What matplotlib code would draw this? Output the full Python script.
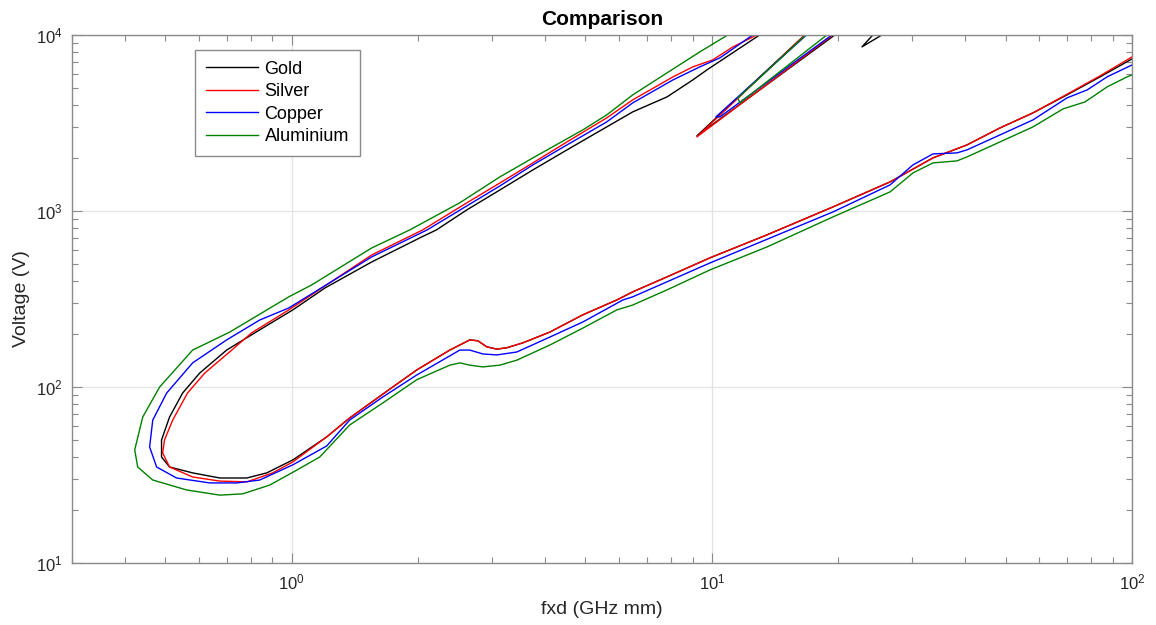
import matplotlib
matplotlib.use("Agg")
import matplotlib.pyplot as plt
from matplotlib.ticker import LogLocator, NullFormatter

plt.rcParams['font.family'] = ['Liberation Sans', 'DejaVu Sans']
plt.rcParams['mathtext.fontset'] = 'custom'
plt.rcParams['mathtext.rm'] = 'Liberation Sans'
plt.rcParams['mathtext.it'] = 'Liberation Sans'
plt.rcParams['mathtext.default'] = 'regular'

# ---------------- data (fxd in GHz mm, Voltage in V) ----------------
gold_x = [13.0, 9.73, 9.01, 7.82, 6.48, 5.62, 4.52, 3.75, 3.13, 2.61, 2.21, 2.04, 1.55, 1.20, 1.006,
          0.839, 0.700, 0.604, 0.550, 0.512, 0.490, 0.490, 0.512, 0.581, 0.674, 0.782, 0.872, 1.006,
          1.211, 1.374, 1.74, 1.985, 2.378, 2.653, 2.773, 2.912, 3.076, 3.25, 3.548, 4.114, 4.931,
          5.94, 6.48, 7.82, 9.89, 13.52, 19.42, 26.54, 33.59, 40.47, 48.5, 58.1, 70.0, 83.9, 100]
gold_y = [10000, 6325, 5550, 4443, 3652, 3001, 2222, 1710, 1316, 1013, 780, 712, 513, 365, 274,
          211, 162, 120, 92.4, 67.5, 50.0, 40.0, 35.1, 32.5, 30.4, 30.4, 32.5, 38.5,
          52.0, 66.7, 100, 125, 162, 185, 183, 169, 164, 167, 178, 205, 257,
          312, 347, 422, 541, 731, 1054, 1461, 2001, 2371, 2962, 3605, 4561, 5773, 7305]

silver_x = [12.80, 11.22, 10.05, 9.01, 8.08, 6.48, 5.62, 4.52, 3.75, 3.13, 2.61, 2.05, 1.55, 0.984,
            0.803, 0.720, 0.621, 0.565, 0.521, 0.498, 0.493, 0.512, 0.581, 0.674, 0.782, 0.901, 1.006,
            1.211, 1.374, 1.74, 1.985, 2.378, 2.653, 2.773, 2.912, 3.076, 3.25, 3.548, 4.114, 4.931,
            5.94, 6.48, 7.82, 9.89, 13.52, 19.42, 26.54, 33.59, 40.47, 48.5, 58.1, 70.0, 83.9, 100]
silver_y = [10000, 8545, 7211, 6580, 5773, 4273, 3377, 2466, 1874, 1442, 1111, 780, 562, 274,
            203, 162, 120, 92.4, 64.9, 50.0, 42.2, 35.1, 30.8, 29.2, 28.9, 32.5, 37.5,
            52.0, 66.7, 100, 125, 162, 185, 183, 169, 164, 167, 178, 205, 257,
            312, 347, 422, 541, 731, 1054, 1461, 2001, 2371, 2962, 3605, 4600, 5850, 7500]

copper_x = [12.52, 10.45, 9.36, 8.08, 6.48, 5.62, 4.52, 3.75, 3.13, 2.10, 1.55, 0.984, 0.839, 0.700,
            0.581, 0.504, 0.467, 0.459, 0.477, 0.532, 0.638, 0.740, 0.839, 1.006, 1.211, 1.374,
            1.647, 1.985, 2.512, 2.653, 2.85, 3.076, 3.434, 4.114, 4.931, 6.14, 6.48, 9.89, 19.42,
            26.54, 30.10, 33.59, 38.31, 40.47, 48.5, 58.1, 70.0, 78.2, 87.2, 100]
copper_y = [10000, 7401, 6580, 5550, 4108, 3204, 2371, 1826, 1387, 780, 548, 281, 240, 185,
            137, 92.4, 64.9, 45.6, 35.1, 30.4, 28.5, 28.5, 29.6, 36.1, 46.2, 64.9,
            87.7, 117, 162, 162, 154, 152, 158, 192, 234, 312, 325, 506, 987,
            1405, 1826, 2108, 2136, 2222, 2703, 3289, 4385, 4870, 5773, 6750]

alu_x = [10.92, 9.36, 7.82, 6.48, 5.62, 4.93, 3.75, 3.13, 2.51, 1.91, 1.55, 1.116, 0.984, 0.712,
         0.581, 0.485, 0.442, 0.423, 0.430, 0.467, 0.562, 0.674, 0.764, 0.886, 1.028, 1.166,
         1.374, 1.647, 1.985, 2.378, 2.512, 2.653, 2.85, 3.127, 3.434, 4.114, 4.931, 5.94, 6.48,
         7.82, 9.89, 13.52, 19.42, 26.54, 30.10, 33.59, 38.31, 40.47, 48.5, 58.1, 68.5, 77.3,
         87.2, 97.3, 100]
alu_y = [10000, 8006, 6083, 4561, 3512, 2886, 2001, 1561, 1111, 780, 616, 380, 325, 205,
         162, 100, 67.5, 43.9, 35.1, 29.6, 26.0, 24.3, 24.7, 27.7, 33.7, 40.0,
         60.8, 81.1, 110, 133, 137, 133, 130, 133, 142, 173, 216, 274, 292,
         356, 462, 624, 925, 1282, 1644, 1874, 1924, 2027, 2466, 3001, 3797, 4162,
         5064, 5773, 5926]

# second-order (and third-order) tongues
gold_t2_x = [16.65, 9.21, 19.63]
gold_t2_y = [10000, 2668, 10000]
silver_t2_x = [16.65, 9.21, 19.42]
silver_t2_y = [10000, 2633, 10000]
copper_t2_x = [16.80, 10.22, 10.45, 19.31]
copper_t2_y = [10000, 3421, 3421, 10000]
alu_t2_x = [16.74, 11.53, 11.65, 18.79]
alu_t2_y = [10000, 4385, 4108, 10000]
gold_t3_x = [24.17, 22.76, 25.40]
gold_t3_y = [10000, 8545, 10000]

labels = ['Gold', 'Silver', 'Copper', 'Aluminium']
colors = ['black', '#ff0000', '#0000ff', '#008000']

# ---------------- figure ----------------
fig = plt.figure(figsize=(11.56, 6.25), dpi=100)
ax = fig.add_axes([0.0623, 0.0992, 0.917, 0.845])

mains = [(gold_x, gold_y), (silver_x, silver_y), (copper_x, copper_y), (alu_x, alu_y)]
tongues = [[(gold_t2_x, gold_t2_y), (gold_t3_x, gold_t3_y)],
           [(silver_t2_x, silver_t2_y)],
           [(copper_t2_x, copper_t2_y)],
           [(alu_t2_x, alu_t2_y)]]

for (xs, ys), lab, col, tl in zip(mains, labels, colors, tongues):
    ax.plot(xs, ys, color=col, lw=1.0, label=lab)
    for tx, ty in tl:
        ax.plot(tx, ty, color=col, lw=1.0)

ax.set_xscale('log')
ax.set_yscale('log')
ax.set_xlim(0.3, 100)
ax.set_ylim(10, 10000)

ax.xaxis.set_major_locator(LogLocator(base=10, numticks=10))
ax.yaxis.set_major_locator(LogLocator(base=10, numticks=10))
ax.xaxis.set_minor_locator(LogLocator(base=10, subs=range(2, 10), numticks=20))
ax.yaxis.set_minor_locator(LogLocator(base=10, subs=range(2, 10), numticks=20))
ax.xaxis.set_minor_formatter(NullFormatter())
ax.yaxis.set_minor_formatter(NullFormatter())

spine_col = '#8a8a8a'
for s in ax.spines.values():
    s.set_color(spine_col)
    s.set_linewidth(1.0)
ax.tick_params(which='both', direction='in', top=True, right=True, color=spine_col,
               labelcolor='#262626', labelsize=12)
ax.tick_params(which='major', length=7, width=0.8, pad=7)
ax.tick_params(which='minor', length=4, width=0.8)

ax.grid(True, which='major', color='#e3e3e3', lw=0.9)
ax.set_axisbelow(True)

ax.set_xlabel('fxd (GHz mm)', fontsize=14, color='#262626', labelpad=6)
ax.set_ylabel('Voltage (V)', fontsize=14, color='#262626', labelpad=4)
ax.set_title('Comparison', fontsize=15, fontweight='bold', color='black', pad=7)

leg = ax.legend(loc='upper left', bbox_to_anchor=(0.116, 0.9716), borderaxespad=0,
                fontsize=13, handlelength=2.9, handletextpad=0.35, labelspacing=0.3,
                fancybox=False, framealpha=1, edgecolor='#8a8a8a', borderpad=0.6)
leg.get_frame().set_linewidth(1.0)

fig.savefig('out.png', dpi=100)
